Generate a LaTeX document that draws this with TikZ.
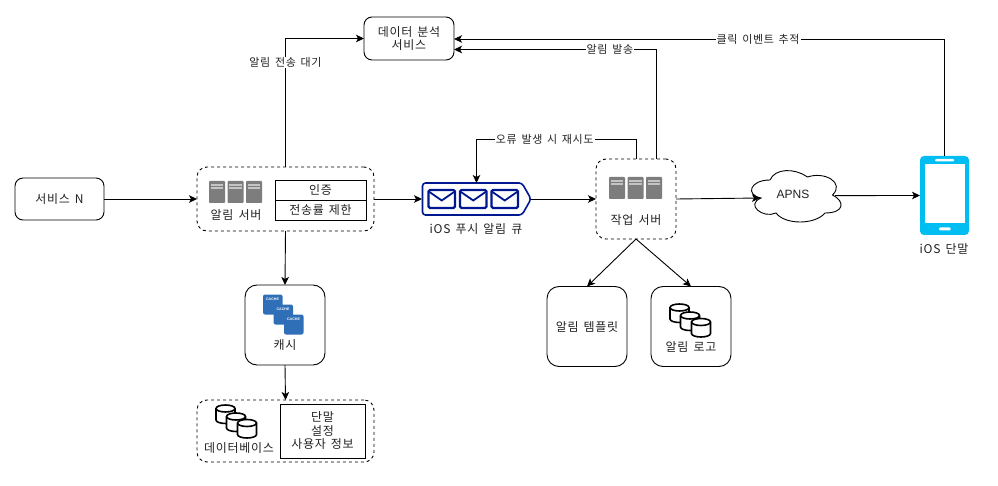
\documentclass[tikz,border=0pt]{standalone}
\usepackage{fontspec}
\setmainfont[LetterSpace=6,WordSpace=1.5]{Noto Sans CJK KR}
\newfontfamily\latinfont{Liberation Sans}
\usetikzlibrary{arrows.meta,calc}
\definecolor{txt}{HTML}{222222}
\definecolor{srv}{HTML}{7D7D7D}
\definecolor{srvl}{HTML}{C4C4C4}
\definecolor{navy}{HTML}{00188F}
\definecolor{cacheblue}{HTML}{2F6FB7}
\definecolor{phoneblue}{HTML}{00BEF2}
\tikzset{
  x=1pt,y=-1pt,
  every node/.style={font=\fontsize{12}{13.5}\selectfont,text=txt,inner sep=0pt,outer sep=0pt,align=center},
  box/.style={draw=black,line width=0.9pt,rounded corners=8pt,fill=white},
  bigbox/.style={draw=black,line width=0.9pt,rounded corners=12pt,fill=white},
  dashbox/.style={draw=black,line width=0.9pt,rounded corners=10pt,dash pattern=on 3pt off 3pt,fill=white},
  plain/.style={draw=black,line width=0.9pt,fill=white},
  conn/.style={draw=black,line width=0.9pt,-{Stealth[length=8pt,width=7.5pt,inset=2pt]}},
  edgelabel/.style={fill=white,inner xsep=1pt,inner ysep=0.5pt,font=\fontsize{11}{13}\selectfont},
  pics/serverone/.style={code={
    \fill[srv,rounded corners=0.8pt] (0,0) rectangle (16,22);
    \fill[srvl] (1.8,3) rectangle (14.2,5.2);
    \fill[srvl] (1.8,6.4) rectangle (14.2,8.2);
  }},
  pics/serverrack/.style={code={
    \pic at (0,0) {serverone};
    \pic at (18.5,0) {serverone};
    \pic at (37,0) {serverone};
  }},
  pics/cyl/.style={code={
    \draw[black,line width=1.6pt,fill=white] (0,3.5) -- (0,15) arc[start angle=180,end angle=0,x radius=9.5,y radius=3.5] -- (19,3.5) arc[start angle=0,end angle=-180,x radius=9.5,y radius=3.5] -- cycle;
    \draw[black,line width=1.6pt] (0,3.5) arc[start angle=180,end angle=0,x radius=9.5,y radius=3.5];
  }},
  pics/cyls/.style={code={
    \pic at (0,0) {cyl};
    \pic at (10.5,8) {cyl};
    \pic at (21.5,14.5) {cyl};
  }},
  pics/cachebox/.style={code={
    \fill[cacheblue,rounded corners=2pt] (0,0) rectangle (19.5,20);
    \node[text=white,font=\latinfont\fontsize{3.6}{4}\selectfont\bfseries] at (9.5,4.5) {CACHE};
  }},
  pics/mail/.style={code={
    \draw[navy,line width=2.4pt,rounded corners=1.5pt] (0,0) rectangle (26.5,18);
    \draw[navy,line width=1.8pt] (1,2) -- (13.25,10.5) -- (25.5,2);
  }},
}
\begin{document}
\begin{tikzpicture}
\useasboundingbox[fill=white] (0,0) rectangle (998,486);

% boxes
\node[box,minimum width=89pt,minimum height=42pt] (svc) at (59.5,199) {서비스 N};
\node[box,minimum width=90pt,minimum height=43pt] (analytics) at (409,38.5) {데이터 분석\\서비스};
\node[dashbox,minimum width=177pt,minimum height=64pt] (alarm) at (285.5,199) {};
\node[dashbox,minimum width=80pt,minimum height=80pt] (worker) at (636,199) {};
\node[bigbox,minimum width=80pt,minimum height=80pt] (cache) at (285,325) {};
\node[bigbox,minimum width=80pt,minimum height=80pt] (template) at (587,326.5) {알림 템플릿};
\node[bigbox,minimum width=80pt,minimum height=80pt] (logbox) at (691,326.5) {};
\node[dashbox,minimum width=177pt,minimum height=62pt] (db) at (285.5,431) {};
\node[minimum width=93pt,minimum height=51pt] (apns) at (796,197) {};
\draw[black,line width=0.9pt,fill=white] (770,180)
  .. controls (750,180) and (745,195) .. (761,198)
  .. controls (745,204.6) and (763,219) .. (776,213)
  .. controls (785,225) and (815,225) .. (825,213)
  .. controls (845,213) and (845,201) .. (832.5,195)
  .. controls (845,183) and (825,171) .. (807.5,177)
  .. controls (795,168) and (775,168) .. cycle;
\node at (793,194) {\latinfont APNS};
\node[minimum width=109pt,minimum height=32pt] (queue) at (476.5,199) {};
\node[minimum width=49pt,minimum height=79pt] (phone) at (944.5,195.5) {};

% table in alarm server
\node[plain,minimum width=91pt,minimum height=20pt] (auth) at (320.5,190) {인증};
\node[plain,minimum width=91pt,minimum height=20pt] (rate) at (320.5,210) {전송률 제한};
% info box in db
\node[plain,minimum width=85pt,minimum height=54pt] (info) at (322.5,431) {단말\\설정\\사용자 정보};

% labels
\node (lalarm) at (236,215) {알림 서버};
\node (lqueue) at (476,229) {iOS 푸시 알림 큐};
\node (lworker) at (636,220) {작업 서버};
\node (lcache) at (285,345) {캐시};
\node (llog) at (691,347) {알림 로고};
\node (ldb) at (239,448) {데이터베이스};
\node (lphone) at (944,249) {iOS 단말};

% icons
\pic at (209,181) {serverrack};
\pic at (609,177) {serverrack};
\pic at (216,405) {cyls};
\pic at (670,304) {cyls};
\pic at (263,294.5) {cachebox};
\pic at (273.5,304.5) {cachebox};
\pic at (284,314.5) {cachebox};

% queue
\draw[navy,line width=1.6pt,rounded corners=3pt,fill=white] (422.5,183) -- (522,183) -- (531,199) -- (522,215) -- (422.5,215) -- cycle;
\pic at (428.5,190) {mail};
\pic at (460,190) {mail};
\pic at (491.5,190) {mail};

% phone
\fill[phoneblue,rounded corners=4pt] (920,156) rectangle (969,235);
\fill[white] (924.5,164.5) rectangle (964.5,223);
\fill[white,rounded corners=1pt] (935,159) rectangle (954,161.5);
\fill[white,rounded corners=1pt] (939,227.5) rectangle (950.5,230.5);

% connectors
\draw[conn] (svc.east) -- (alarm.west);
\draw[conn] (alarm.east) -- (queue.west);
\draw[conn] (alarm.south) -- (cache.north);
\draw[conn] (cache.south) -- (db.north);
\draw[conn] (queue.east) -- (worker.west);
\draw[conn] (alarm.north) |- (analytics.west) node[pos=0.407,edgelabel] (l1) {알림 전송 대기};
\draw[conn] (worker.north) -- ++(0,-20) -| (queue.north) node[pos=0.286,edgelabel] (l2) {오류 발생 시 재시도};
\draw[conn] ($(worker.north)+(20,0)$) |- ($(analytics.east)+(0,11)$) node[pos=0.614,edgelabel] (l3) {알림 발송};
\draw[conn] (phone.north) |- ($(analytics.east)+(0,0.5)$) node[pos=0.69,edgelabel] (l4) {클릭 이벤트 추적};
\draw[conn] (worker.east) -- ($(apns.west)+(10.5,1)$);
\draw[conn] ($(apns.east)+(-7.5,-1.4)$) -- (phone.west);
\draw[conn] (worker.south) -- (template.north);
\draw[conn] (worker.south) -- (logbox.north);
\end{tikzpicture}
\end{document}
